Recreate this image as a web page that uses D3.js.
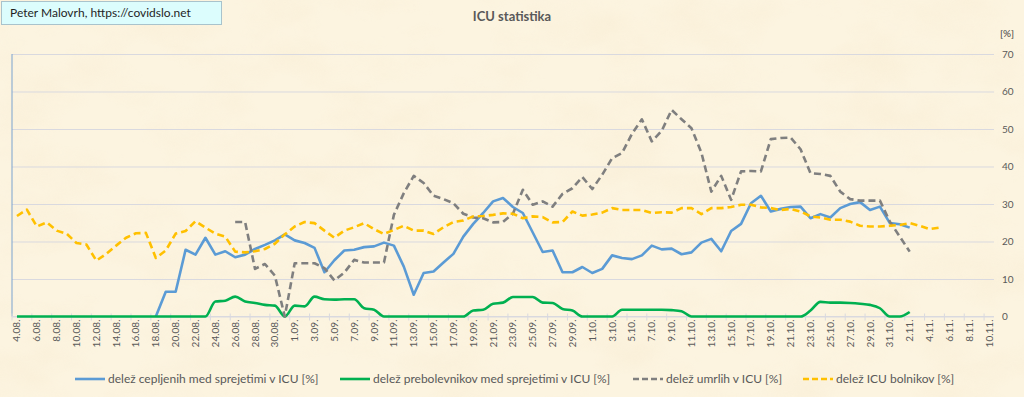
<!DOCTYPE html>
<html>
<head>
<meta charset="utf-8">
<script src="https://cdn.jsdelivr.net/npm/d3@7"></script>
<style>
  body { margin: 0; background: #fbf1da; }
  svg { display: block; font-family: Lato, "Open Sans", sans-serif; }
</style>
</head>
<body>
<div id="chart"></div>
<script>
// categories: one per day, 4.08. to 10.11.
var dates = d3.timeDay.range(new Date(2021, 7, 4), new Date(2021, 10, 11));
var fmt = d3.timeFormat("%-d.%m.");
var yTicks = [0, 10, 20, 30, 40, 50, 60, 70];

// delež cepljenih med sprejetimi v ICU [%]
var cepljeni = [null, null, null, null, null, null, null, null, null, null,
  null, null, null, null, 0, 6.6, 6.6, 17.8, 16.5, 21.0,
  16.5, 17.4, 15.8, 16.5, 18.0, 19.1, 20.3, 21.9, 20.3, 19.6,
  18.3, 11.8, 15.0, 17.6, 17.8, 18.5, 18.7, 19.7, 18.9, 13.3,
  5.8, 11.6, 12.0, 14.4, 16.7, 21.3, 24.7, 27.6, 30.7, 31.6,
  29.2, 27.6, 22.4, 17.2, 17.6, 11.8, 11.8, 13.2, 11.6, 12.7,
  16.3, 15.6, 15.3, 16.3, 18.9, 17.9, 18.1, 16.6, 17.1, 19.7,
  20.7, 17.4, 22.8, 24.7, 30.2, 32.2, 28.0, 28.7, 29.2, 29.3,
  26.2, 27.3, 26.4, 28.9, 30.0, 30.5, 28.4, 29.3, 24.9, 24.6,
  23.7, null, null, null, null, null, null, null, null];

// delež prebolevnikov med sprejetimi v ICU [%]
var preboleli = [0, 0, 0, 0, 0, 0, 0, 0, 0, 0,
  0, 0, 0, 0, 0, 0, 0, 0, 0, 0,
  4.0, 4.2, 5.3, 4.0, 3.6, 3.1, 2.9, 0, 2.9, 2.7,
  5.3, 4.6, 4.5, 4.6, 4.6, 2.2, 1.8, 0, 0, 0,
  0, 0, 0, 0, 0, 0, 1.6, 1.8, 3.4, 3.7,
  5.2, 5.2, 5.2, 3.7, 3.6, 2.0, 1.6, 0, 0, 0,
  0, 1.8, 1.8, 1.8, 1.8, 1.8, 1.7, 1.4, 0, 0,
  0, 0, 0, 0, 0, 0, 0, 0, 0, 0,
  1.6, 3.9, 3.7, 3.7, 3.6, 3.4, 3.1, 2.2, 0, 0,
  1.2, null, null, null, null, null, null, null, null];

// delež umrlih v ICU [%]
var umrli = [null, null, null, null, null, null, null, null, null, null,
  null, null, null, null, null, null, null, null, null, null,
  null, null, 25.2, 25.2, 12.7, 14.0, 10.9, 0, 14.2, 14.2,
  14.2, 12.9, 9.6, 11.7, 15.1, 14.4, 14.4, 14.4, 27.1, 32.9,
  37.5, 35.6, 32.2, 31.3, 30.2, 27.4, 26.4, 26.2, 25.1, 25.2,
  27.4, 33.8, 29.8, 30.7, 29.3, 32.7, 34.2, 37.2, 34.0, 37.8,
  42.2, 43.6, 48.7, 52.6, 46.7, 49.5, 55.1, 52.6, 50.2, 43.7,
  33.3, 37.5, 31.1, 38.7, 38.8, 38.7, 47.3, 47.6, 47.7, 44.6,
  38.2, 38.0, 37.5, 33.3, 31.3, 30.9, 30.9, 30.9, 25.3, 21.3,
  17.3, null, null, null, null, null, null, null, null];

// delež ICU bolnikov [%]
var icuBolniki = [26.8, 28.5, 24.0, 25.1, 22.9, 22.1, 19.6, 19.2, 14.9, 16.7,
  18.9, 21.0, 22.2, 22.3, 15.6, 17.6, 22.1, 22.8, 25.4, 23.7,
  22.1, 21.3, 17.3, 17.1, 17.4, 18.0, 19.4, 21.9, 24.0, 25.2,
  24.9, 22.9, 21.0, 22.9, 23.8, 24.9, 23.3, 22.0, 23.1, 24.2,
  22.9, 22.9, 22.0, 23.8, 25.2, 25.6, 26.7, 26.8, 27.1, 27.5,
  27.4, 26.2, 26.7, 26.5, 25.1, 25.2, 28.0, 26.9, 27.2, 27.7,
  28.9, 28.4, 28.4, 28.4, 27.6, 27.8, 27.7, 28.9, 28.9, 27.3,
  28.9, 28.9, 29.2, 29.8, 29.8, 29.1, 28.9, 28.4, 28.7, 28.0,
  26.7, 26.4, 25.8, 25.8, 25.3, 24.2, 24.0, 24.0, 24.2, 24.4,
  24.9, 24.2, 23.3, 23.7, null, null, null, null, null];

var series = [
  {name: "delež cepljenih med sprejetimi v ICU [%]", values: cepljeni, color: "#5b9bd5", dash: null, smooth: false, lx: 75},
  {name: "delež prebolevnikov med sprejetimi v ICU [%]", values: preboleli, color: "#00b050", dash: null, smooth: true, lx: 340},
  {name: "delež umrlih v ICU [%]", values: umrli, color: "#7f7f7f", dash: "7,4", smooth: false, lx: 633},
  {name: "delež ICU bolnikov [%]", values: icuBolniki, color: "#ffc000", dash: "7,4", smooth: false, lx: 803}
];

var svgWidth = 1024, svgHeight = 397;
var plot = {left: 12, right: 994, top: 54, bottom: 316.5};

var svg = d3.select("#chart").append("svg")
  .attr("width", svgWidth)
  .attr("height", svgHeight);

// parchment-ish background
var defs = svg.append("defs");
var f = defs.append("filter").attr("id", "paper")
  .attr("x", 0).attr("y", 0).attr("width", "100%").attr("height", "100%");
f.append("feTurbulence").attr("type", "fractalNoise")
  .attr("baseFrequency", "0.012 0.02").attr("numOctaves", 4).attr("seed", 7);
f.append("feColorMatrix").attr("type", "matrix")
  .attr("values", "0 0 0 0 0.95  0 0 0 0 0.86  0 0 0 0 0.68  2.2 0 0 0 -0.95");

svg.append("rect").attr("width", svgWidth).attr("height", svgHeight).attr("fill", "#fcf4e0");
svg.append("rect").attr("width", svgWidth).attr("height", svgHeight)
  .attr("filter", "url(#paper)").attr("opacity", 0.7);

// scales
var x = d3.scaleBand()
  .domain(d3.range(dates.length))
  .range([plot.left, plot.right])
  .padding(0);

var y = d3.scaleLinear()
  .domain([0, 70])
  .range([plot.bottom, plot.top]);

var cx = i => x(i) + x.bandwidth() / 2;

// gridlines + y labels on the right
var yAxis = d3.axisRight(y)
  .tickValues(yTicks)
  .tickSize(plot.right - plot.left)
  .tickPadding(8);

var yg = svg.append("g")
  .attr("transform", `translate(${plot.left},0)`)
  .call(yAxis);
yg.select(".domain").remove();
yg.selectAll(".tick line").attr("stroke", "#d9d9df");
yg.selectAll(".tick text")
  .attr("fill", "#595959")
  .attr("font-size", "10px")
  .attr("font-family", "Lato, sans-serif");

svg.append("text")
  .attr("x", 1000)
  .attr("y", 37)
  .attr("fill", "#404040")
  .attr("font-size", "10px")
  .text("[%]");

// left axis line
svg.append("line")
  .attr("x1", plot.left).attr("x2", plot.left)
  .attr("y1", plot.top).attr("y2", plot.bottom)
  .attr("stroke", "#7aa3cf")
  .attr("stroke-width", 1);

// category axis: ticks between categories, label every second day
var xg = svg.append("g");
xg.append("line")
  .attr("x1", plot.left).attr("x2", plot.right)
  .attr("y1", plot.bottom).attr("y2", plot.bottom)
  .attr("stroke", "#d9d9df");

xg.selectAll("line.tk")
  .data(d3.range(0, dates.length + 1, 2))
  .enter()
  .append("line")
  .attr("class", "tk")
  .attr("x1", d => plot.left + d * x.step())
  .attr("x2", d => plot.left + d * x.step())
  .attr("y1", plot.bottom - 3)
  .attr("y2", plot.bottom + 4)
  .attr("stroke", "#d9d9df");

xg.selectAll("text")
  .data(d3.range(0, dates.length, 2))
  .enter()
  .append("text")
  .attr("transform", d => `translate(${cx(d) + 3.5},${plot.bottom + 3}) rotate(-90)`)
  .attr("text-anchor", "end")
  .attr("fill", "#595959")
  .attr("font-size", "10px")
  .text(d => fmt(dates[d]));

// lines
series.forEach(function(s) {
  var line = d3.line()
    .defined(d => d != null)
    .x((d, i) => cx(i))
    .y(d => y(d));
  if (s.smooth) line.curve(d3.curveMonotoneX);

  svg.append("path")
    .datum(s.values)
    .attr("d", line)
    .attr("fill", "none")
    .attr("stroke", s.color)
    .attr("stroke-width", 2.6)
    .attr("stroke-linejoin", "round")
    .attr("stroke-dasharray", s.dash);
});

// title
svg.append("text")
  .attr("x", 512)
  .attr("y", 21)
  .attr("text-anchor", "middle")
  .attr("font-size", "13px")
  .attr("font-weight", "bold")
  .attr("fill", "#595959")
  .text("ICU statistika");

// legend
var legend = svg.append("g").selectAll("g")
  .data(series)
  .enter()
  .append("g")
  .attr("transform", d => `translate(${d.lx},379)`);

legend.append("line")
  .attr("x1", 0).attr("x2", 30)
  .attr("stroke", d => d.color)
  .attr("stroke-width", 2.6)
  .attr("stroke-dasharray", d => d.dash ? "6,3" : null);

legend.append("text")
  .attr("x", 33)
  .attr("dy", "0.35em")
  .attr("font-size", "12px")
  .attr("fill", "#595959")
  .text(d => d.name);

// author box
svg.append("rect")
  .attr("x", 1.5).attr("y", 1.5)
  .attr("width", 220).attr("height", 23)
  .attr("fill", "#dcfdfd")
  .attr("stroke", "#a9c3cc");

svg.append("text")
  .attr("x", 10)
  .attr("y", 17)
  .attr("font-size", "12px")
  .attr("fill", "#1f1f1f")
  .text("Peter Malovrh, https://covidslo.net");
</script>
</body>
</html>
